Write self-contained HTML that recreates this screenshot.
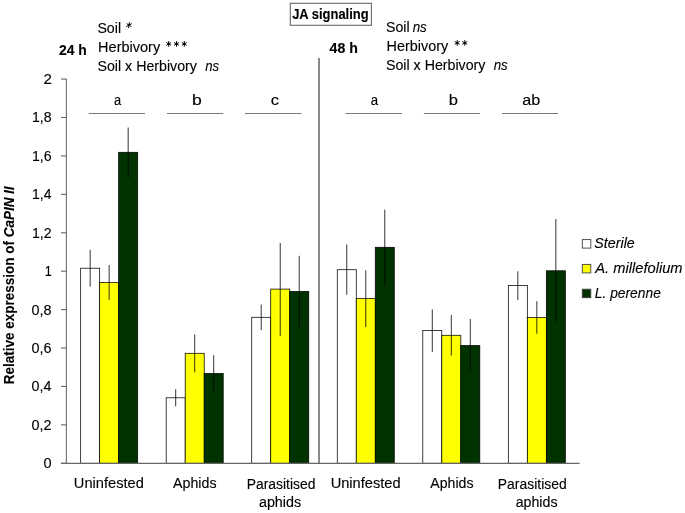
<!DOCTYPE html>
<html><head><meta charset="utf-8"><style>
html,body{margin:0;padding:0;background:#fff;overflow:hidden;}
svg{display:block;will-change:transform;}
text{font-family:"Liberation Sans", sans-serif;fill:#000;stroke:#000;stroke-width:0.12px;}
</style></head><body>
<svg width="685" height="513" viewBox="0 0 685 513">
<rect width="685" height="513" fill="#fff"/>
<rect x="80.66" y="268.20" width="19.01" height="195.10" fill="#ffffff" stroke="#000" stroke-width="0.75"/>
<rect x="99.66" y="282.50" width="19.01" height="180.80" fill="#ffff00" stroke="#000" stroke-width="0.75"/>
<rect x="118.67" y="152.30" width="19.01" height="311.00" fill="#003300" stroke="#000" stroke-width="0.75"/>
<rect x="166.19" y="397.80" width="19.01" height="65.50" fill="#ffffff" stroke="#000" stroke-width="0.75"/>
<rect x="185.20" y="353.30" width="19.01" height="110.00" fill="#ffff00" stroke="#000" stroke-width="0.75"/>
<rect x="204.20" y="373.50" width="19.01" height="89.80" fill="#003300" stroke="#000" stroke-width="0.75"/>
<rect x="251.72" y="317.30" width="19.01" height="146.00" fill="#ffffff" stroke="#000" stroke-width="0.75"/>
<rect x="270.73" y="289.10" width="19.01" height="174.20" fill="#ffff00" stroke="#000" stroke-width="0.75"/>
<rect x="289.74" y="291.50" width="19.01" height="171.80" fill="#003300" stroke="#000" stroke-width="0.75"/>
<rect x="337.26" y="269.70" width="19.01" height="193.60" fill="#ffffff" stroke="#000" stroke-width="0.75"/>
<rect x="356.26" y="298.60" width="19.01" height="164.70" fill="#ffff00" stroke="#000" stroke-width="0.75"/>
<rect x="375.27" y="247.30" width="19.01" height="216.00" fill="#003300" stroke="#000" stroke-width="0.75"/>
<rect x="422.79" y="330.60" width="19.01" height="132.70" fill="#ffffff" stroke="#000" stroke-width="0.75"/>
<rect x="441.80" y="335.30" width="19.01" height="128.00" fill="#ffff00" stroke="#000" stroke-width="0.75"/>
<rect x="460.80" y="345.60" width="19.01" height="117.70" fill="#003300" stroke="#000" stroke-width="0.75"/>
<rect x="508.32" y="285.60" width="19.01" height="177.70" fill="#ffffff" stroke="#000" stroke-width="0.75"/>
<rect x="527.33" y="317.60" width="19.01" height="145.70" fill="#ffff00" stroke="#000" stroke-width="0.75"/>
<rect x="546.34" y="270.80" width="19.01" height="192.50" fill="#003300" stroke="#000" stroke-width="0.75"/>
<line x1="90.16" y1="249.80" x2="90.16" y2="286.70" stroke="#000" stroke-width="0.8"/>
<line x1="109.17" y1="265.00" x2="109.17" y2="299.80" stroke="#000" stroke-width="0.8"/>
<line x1="128.17" y1="127.50" x2="128.17" y2="177.70" stroke="#000" stroke-width="0.8"/>
<line x1="175.69" y1="389.20" x2="175.69" y2="406.40" stroke="#000" stroke-width="0.8"/>
<line x1="194.70" y1="334.40" x2="194.70" y2="372.30" stroke="#000" stroke-width="0.8"/>
<line x1="213.71" y1="355.10" x2="213.71" y2="391.90" stroke="#000" stroke-width="0.8"/>
<line x1="261.23" y1="304.50" x2="261.23" y2="330.20" stroke="#000" stroke-width="0.8"/>
<line x1="280.23" y1="243.00" x2="280.23" y2="335.90" stroke="#000" stroke-width="0.8"/>
<line x1="299.24" y1="255.80" x2="299.24" y2="327.20" stroke="#000" stroke-width="0.8"/>
<line x1="346.76" y1="244.40" x2="346.76" y2="294.80" stroke="#000" stroke-width="0.8"/>
<line x1="365.77" y1="270.20" x2="365.77" y2="327.00" stroke="#000" stroke-width="0.8"/>
<line x1="384.77" y1="209.70" x2="384.77" y2="284.50" stroke="#000" stroke-width="0.8"/>
<line x1="432.29" y1="309.50" x2="432.29" y2="351.90" stroke="#000" stroke-width="0.8"/>
<line x1="451.30" y1="314.90" x2="451.30" y2="355.60" stroke="#000" stroke-width="0.8"/>
<line x1="470.31" y1="319.10" x2="470.31" y2="371.40" stroke="#000" stroke-width="0.8"/>
<line x1="517.83" y1="271.30" x2="517.83" y2="300.10" stroke="#000" stroke-width="0.8"/>
<line x1="536.83" y1="301.20" x2="536.83" y2="333.70" stroke="#000" stroke-width="0.8"/>
<line x1="555.84" y1="218.90" x2="555.84" y2="322.30" stroke="#000" stroke-width="0.8"/>
<line x1="66.40" y1="79.06" x2="66.40" y2="463.30" stroke="#6e6e6e" stroke-width="1.1"/>
<line x1="61.0" y1="79.06" x2="66.40" y2="79.06" stroke="#666" stroke-width="1.1"/>
<line x1="61.0" y1="117.48" x2="66.40" y2="117.48" stroke="#666" stroke-width="1.1"/>
<line x1="61.0" y1="155.91" x2="66.40" y2="155.91" stroke="#666" stroke-width="1.1"/>
<line x1="61.0" y1="194.33" x2="66.40" y2="194.33" stroke="#666" stroke-width="1.1"/>
<line x1="61.0" y1="232.76" x2="66.40" y2="232.76" stroke="#666" stroke-width="1.1"/>
<line x1="61.0" y1="271.18" x2="66.40" y2="271.18" stroke="#666" stroke-width="1.1"/>
<line x1="61.0" y1="309.60" x2="66.40" y2="309.60" stroke="#666" stroke-width="1.1"/>
<line x1="61.0" y1="348.03" x2="66.40" y2="348.03" stroke="#666" stroke-width="1.1"/>
<line x1="61.0" y1="386.45" x2="66.40" y2="386.45" stroke="#666" stroke-width="1.1"/>
<line x1="61.0" y1="424.88" x2="66.40" y2="424.88" stroke="#666" stroke-width="1.1"/>
<line x1="61.0" y1="463.30" x2="66.40" y2="463.30" stroke="#666" stroke-width="1.1"/>
<line x1="61.0" y1="463.30" x2="579.60" y2="463.30" stroke="#666" stroke-width="1.2"/>
<line x1="319.0" y1="57.9" x2="319.0" y2="463" stroke="#7d7d7d" stroke-width="1.8"/>
<rect x="290.3" y="3.3" width="81.1" height="22.0" fill="none" stroke="#6a6a6a" stroke-width="1.1"/>
<line x1="88.8" y1="113.5" x2="145.0" y2="113.5" stroke="#7a7a7a" stroke-width="1.05"/>
<line x1="166.9" y1="113.5" x2="223.2" y2="113.5" stroke="#7a7a7a" stroke-width="1.05"/>
<line x1="245.0" y1="113.5" x2="301.5" y2="113.5" stroke="#7a7a7a" stroke-width="1.05"/>
<line x1="345.5" y1="113.5" x2="401.9" y2="113.5" stroke="#7a7a7a" stroke-width="1.05"/>
<line x1="423.8" y1="113.5" x2="480.0" y2="113.5" stroke="#7a7a7a" stroke-width="1.05"/>
<line x1="502.0" y1="113.5" x2="558.1" y2="113.5" stroke="#7a7a7a" stroke-width="1.05"/>
<path d="M129.00 25.10L129.43 22.55M129.00 25.10L131.43 23.83M129.00 25.10L130.99 26.38M129.00 25.10L128.57 27.65M129.00 25.10L126.57 26.38M129.00 25.10L127.01 23.83" stroke="#000" stroke-width="1.0" stroke-linecap="round" fill="none"/>
<path d="M168.70 43.90L168.70 41.50M168.70 43.90L170.78 42.70M168.70 43.90L170.78 45.10M168.70 43.90L168.70 46.30M168.70 43.90L166.62 45.10M168.70 43.90L166.62 42.70" stroke="#000" stroke-width="1.0" stroke-linecap="round" fill="none"/>
<path d="M176.50 43.90L176.50 41.50M176.50 43.90L178.58 42.70M176.50 43.90L178.58 45.10M176.50 43.90L176.50 46.30M176.50 43.90L174.42 45.10M176.50 43.90L174.42 42.70" stroke="#000" stroke-width="1.0" stroke-linecap="round" fill="none"/>
<path d="M184.30 43.90L184.30 41.50M184.30 43.90L186.38 42.70M184.30 43.90L186.38 45.10M184.30 43.90L184.30 46.30M184.30 43.90L182.22 45.10M184.30 43.90L182.22 42.70" stroke="#000" stroke-width="1.0" stroke-linecap="round" fill="none"/>
<path d="M457.20 42.90L457.20 40.50M457.20 42.90L459.28 41.70M457.20 42.90L459.28 44.10M457.20 42.90L457.20 45.30M457.20 42.90L455.12 44.10M457.20 42.90L455.12 41.70" stroke="#000" stroke-width="1.0" stroke-linecap="round" fill="none"/>
<path d="M464.80 42.90L464.80 40.50M464.80 42.90L466.88 41.70M464.80 42.90L466.88 44.10M464.80 42.90L464.80 45.30M464.80 42.90L462.72 44.10M464.80 42.90L462.72 41.70" stroke="#000" stroke-width="1.0" stroke-linecap="round" fill="none"/>
<rect x="582.3" y="239.60" width="8.5" height="8.5" fill="#ffffff" stroke="#404040" stroke-width="0.9"/>
<rect x="582.3" y="264.40" width="8.5" height="8.5" fill="#ffff00" stroke="#404040" stroke-width="0.9"/>
<rect x="582.3" y="289.20" width="8.5" height="8.5" fill="#003300" stroke="#404040" stroke-width="0.9"/>
<text x="97.43" y="33.10" font-size="14" textLength="23.64" lengthAdjust="spacingAndGlyphs"><tspan font-weight="normal" font-style="normal">Soil</tspan></text>
<text x="98.13" y="51.90" font-size="14" textLength="62.00" lengthAdjust="spacingAndGlyphs"><tspan font-weight="normal" font-style="normal">Herbivory</tspan></text>
<text x="97.53" y="71.00" font-size="14" textLength="99.33" lengthAdjust="spacingAndGlyphs"><tspan font-weight="normal" font-style="normal">Soil x Herbivory</tspan></text>
<text x="205.24" y="71.00" font-size="14" textLength="13.87" lengthAdjust="spacingAndGlyphs"><tspan font-weight="normal" font-style="italic">ns</tspan></text>
<text x="59.00" y="54.50" font-size="14" textLength="27.79" lengthAdjust="spacingAndGlyphs"><tspan font-weight="bold" font-style="normal">24 h</tspan></text>
<text x="292.18" y="19.30" font-size="14" textLength="76.39" lengthAdjust="spacingAndGlyphs"><tspan font-weight="bold" font-style="normal">JA signaling</tspan></text>
<text x="329.64" y="53.40" font-size="14" textLength="28.26" lengthAdjust="spacingAndGlyphs"><tspan font-weight="bold" font-style="normal">48 h</tspan></text>
<text x="386.03" y="31.80" font-size="14" textLength="23.64" lengthAdjust="spacingAndGlyphs"><tspan font-weight="normal" font-style="normal">Soil</tspan></text>
<text x="412.64" y="31.80" font-size="14" textLength="14.19" lengthAdjust="spacingAndGlyphs"><tspan font-weight="normal" font-style="italic">ns</tspan></text>
<text x="386.64" y="50.60" font-size="14" textLength="61.49" lengthAdjust="spacingAndGlyphs"><tspan font-weight="normal" font-style="normal">Herbivory</tspan></text>
<text x="385.93" y="69.70" font-size="14" textLength="99.53" lengthAdjust="spacingAndGlyphs"><tspan font-weight="normal" font-style="normal">Soil x Herbivory</tspan></text>
<text x="493.64" y="69.70" font-size="14" textLength="14.08" lengthAdjust="spacingAndGlyphs"><tspan font-weight="normal" font-style="italic">ns</tspan></text>
<text x="114.09" y="105.00" font-size="14" textLength="7.16" lengthAdjust="spacingAndGlyphs"><tspan font-weight="normal" font-style="normal">a</tspan></text>
<text x="191.93" y="105.00" font-size="14" textLength="9.81" lengthAdjust="spacingAndGlyphs"><tspan font-weight="normal" font-style="normal">b</tspan></text>
<text x="270.71" y="105.20" font-size="14" textLength="8.32" lengthAdjust="spacingAndGlyphs"><tspan font-weight="normal" font-style="normal">c</tspan></text>
<text x="370.87" y="105.10" font-size="14" textLength="7.37" lengthAdjust="spacingAndGlyphs"><tspan font-weight="normal" font-style="normal">a</tspan></text>
<text x="448.70" y="104.90" font-size="14" textLength="9.20" lengthAdjust="spacingAndGlyphs"><tspan font-weight="normal" font-style="normal">b</tspan></text>
<text x="522.23" y="105.00" font-size="14" textLength="17.99" lengthAdjust="spacingAndGlyphs"><tspan font-weight="normal" font-style="normal">ab</tspan></text>
<text x="73.84" y="488.10" font-size="14" textLength="69.97" lengthAdjust="spacingAndGlyphs"><tspan font-weight="normal" font-style="normal">Uninfested</tspan></text>
<text x="173.14" y="488.30" font-size="14" textLength="43.36" lengthAdjust="spacingAndGlyphs"><tspan font-weight="normal" font-style="normal">Aphids</tspan></text>
<text x="246.67" y="488.50" font-size="14" textLength="68.85" lengthAdjust="spacingAndGlyphs"><tspan font-weight="normal" font-style="normal">Parasitised</tspan></text>
<text x="258.92" y="506.50" font-size="14" textLength="42.30" lengthAdjust="spacingAndGlyphs"><tspan font-weight="normal" font-style="normal">aphids</tspan></text>
<text x="330.65" y="488.10" font-size="14" textLength="69.87" lengthAdjust="spacingAndGlyphs"><tspan font-weight="normal" font-style="normal">Uninfested</tspan></text>
<text x="430.34" y="488.30" font-size="14" textLength="43.16" lengthAdjust="spacingAndGlyphs"><tspan font-weight="normal" font-style="normal">Aphids</tspan></text>
<text x="497.77" y="488.50" font-size="14" textLength="68.95" lengthAdjust="spacingAndGlyphs"><tspan font-weight="normal" font-style="normal">Parasitised</tspan></text>
<text x="515.73" y="506.60" font-size="14" textLength="41.78" lengthAdjust="spacingAndGlyphs"><tspan font-weight="normal" font-style="normal">aphids</tspan></text>
<text x="594.36" y="248.20" font-size="14" textLength="40.40" lengthAdjust="spacingAndGlyphs"><tspan font-weight="normal" font-style="italic">Sterile</tspan></text>
<text x="595.29" y="273.20" font-size="14" textLength="87.26" lengthAdjust="spacingAndGlyphs"><tspan font-weight="normal" font-style="italic">A. millefolium</tspan></text>
<text x="594.84" y="297.70" font-size="14" textLength="65.98" lengthAdjust="spacingAndGlyphs"><tspan font-weight="normal" font-style="italic">L. perenne</tspan></text>
<text x="43.43" y="84.06" font-size="14" textLength="8.39" lengthAdjust="spacingAndGlyphs"><tspan font-weight="normal" font-style="normal">2</tspan></text>
<text x="31.98" y="122.48" font-size="14" textLength="19.59" lengthAdjust="spacingAndGlyphs"><tspan font-weight="normal" font-style="normal">1,8</tspan></text>
<text x="31.98" y="160.91" font-size="14" textLength="19.58" lengthAdjust="spacingAndGlyphs"><tspan font-weight="normal" font-style="normal">1,6</tspan></text>
<text x="31.99" y="199.33" font-size="14" textLength="19.43" lengthAdjust="spacingAndGlyphs"><tspan font-weight="normal" font-style="normal">1,4</tspan></text>
<text x="31.98" y="237.76" font-size="14" textLength="19.59" lengthAdjust="spacingAndGlyphs"><tspan font-weight="normal" font-style="normal">1,2</tspan></text>
<text x="44.68" y="276.18" font-size="14" textLength="7.02" lengthAdjust="spacingAndGlyphs"><tspan font-weight="normal" font-style="normal">1</tspan></text>
<text x="31.48" y="314.60" font-size="14" textLength="20.10" lengthAdjust="spacingAndGlyphs"><tspan font-weight="normal" font-style="normal">0,8</tspan></text>
<text x="31.48" y="353.03" font-size="14" textLength="20.09" lengthAdjust="spacingAndGlyphs"><tspan font-weight="normal" font-style="normal">0,6</tspan></text>
<text x="31.49" y="391.45" font-size="14" textLength="19.93" lengthAdjust="spacingAndGlyphs"><tspan font-weight="normal" font-style="normal">0,4</tspan></text>
<text x="31.48" y="429.88" font-size="14" textLength="20.10" lengthAdjust="spacingAndGlyphs"><tspan font-weight="normal" font-style="normal">0,2</tspan></text>
<text x="43.58" y="468.30" font-size="14" textLength="8.12" lengthAdjust="spacingAndGlyphs"><tspan font-weight="normal" font-style="normal">0</tspan></text>
<text transform="translate(14.00,383.40) rotate(-90)" x="-0.82" y="0" font-size="14" textLength="197.84" lengthAdjust="spacingAndGlyphs"><tspan font-weight="bold" font-style="normal">Relative expression of </tspan><tspan font-weight="bold" font-style="italic">CaPIN II</tspan></text>
</svg>
</body></html>
